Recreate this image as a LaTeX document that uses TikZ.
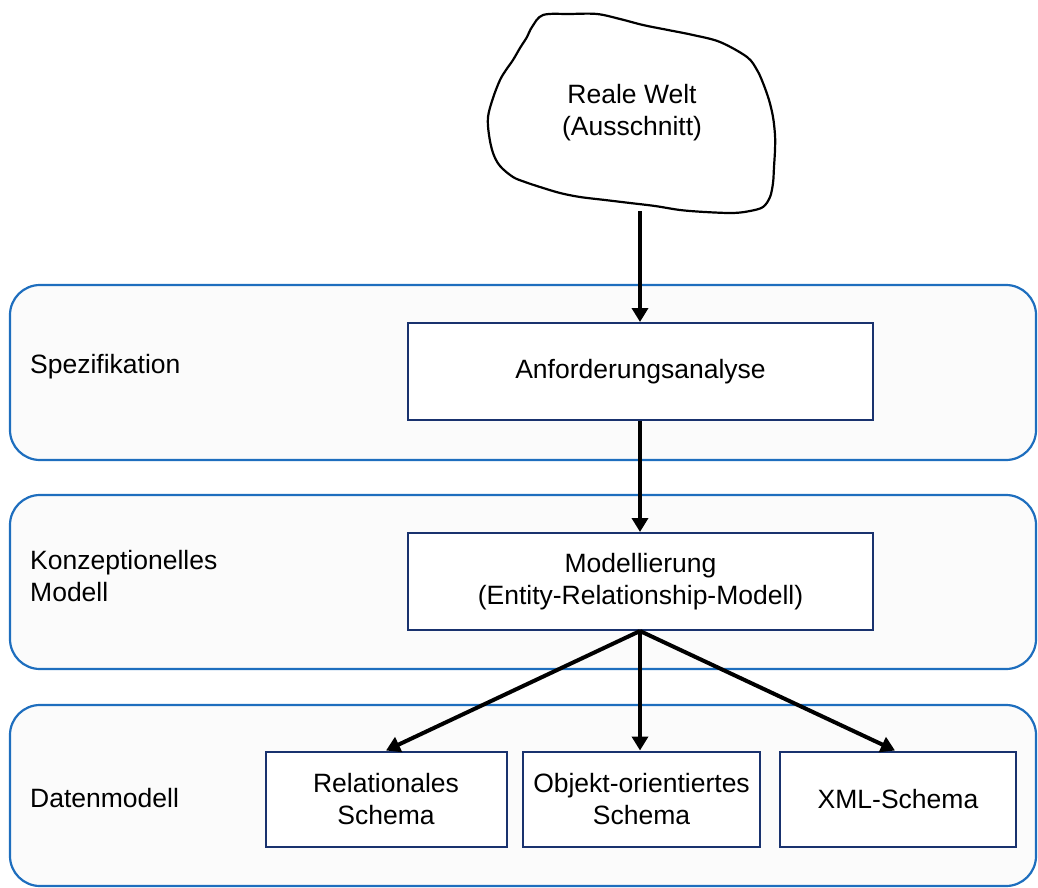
\documentclass[tikz,border=0pt]{standalone}
\usepackage{fontspec}
\setmainfont{Liberation Sans}
\usetikzlibrary{arrows.meta}
\definecolor{bandblue}{RGB}{30,110,190}
\definecolor{bandfill}{RGB}{251,251,251}
\definecolor{boxnavy}{RGB}{25,50,110}
\begin{document}
\begin{tikzpicture}[x=1pt,y=-1pt,
  every node/.style={font=\fontsize{26.5}{32}\selectfont},
  band/.style={draw=bandblue,line width=2.2pt,fill=bandfill,rounded corners=30pt,inner sep=0pt},
  stepbox/.style={draw=boxnavy,line width=2pt,fill=white,align=center,inner sep=0pt},
  lbl/.style={anchor=west,align=left,inner sep=0pt},
  flow/.style={line width=4pt,-{Triangle[width=16pt,length=14pt]}}]
\useasboundingbox (0,0) rectangle (1038,888);
% bands
\node[band,minimum width=1026pt,minimum height=175pt] (b1) at (523,372.5) {};
\node[band,minimum width=1026pt,minimum height=174pt] (b2) at (523,582) {};
\node[band,minimum width=1026pt,minimum height=181pt] (b3) at (523,795.5) {};
% band labels
\node[lbl] (l1) at (30,367) {Spezifikation};
\node[lbl] (l2) at (30,576) {Konzeptionelles\\Modell};
\node[lbl] (l3) at (30,798) {Datenmodell};
% cloud
\draw[line width=2.2pt,line join=round] plot[smooth cycle,tension=0.55] coordinates {
 (543,15) (570,14) (597,14) (620,19) (643,25) (668,30) (693,35) (720,42) (747,57)
 (757,70) (763,83) (769,100) (773,117) (775,135) (775,150) (774,167) (773,183) (770,197) (763,207)
 (750,211) (733,213) (705,212) (680,210) (655,206) (630,203) (605,200) (580,197) (560,193) (540,187)
 (525,182) (513,177) (500,166) (493,153) (489,135) (488,117) (493,98) (500,80) (506,70) (513,60)
 (520,48) (527,37) (532,27)};
\node[align=center,inner sep=0pt] (world) at (632,113) {Reale Welt\\(Ausschnitt)};
\coordinate (cloudbot) at (640,211);
% boxes
\node[stepbox,minimum width=465pt,minimum height=97pt] (anf) at (640.5,371.5) {Anforderungsanalyse};
\node[stepbox,minimum width=465pt,minimum height=97pt] (mod) at (640.5,581.5) {Modellierung\\(Entity-Relationship-Modell)};
\node[stepbox,minimum width=241pt,minimum height=95pt] (rel) at (386,799) {Relationales\\Schema};
\node[stepbox,minimum width=237pt,minimum height=95pt] (obj) at (641.5,799) {Objekt-orientiertes\\Schema};
\node[stepbox,minimum width=236pt,minimum height=95pt] (xml) at (898,799) {XML-Schema};
% arrows
\draw[flow] (cloudbot) -- (anf.north -| cloudbot);
\draw[flow] (anf.south -| cloudbot) -- (mod.north -| cloudbot);
\coordinate (fork) at (mod.south -| cloudbot);
\draw[flow] (fork) -- (rel.north);
\draw[flow] (fork) -- (obj.north -| cloudbot);
\draw[flow] (fork) -- ([xshift=-3pt]xml.north);
\end{tikzpicture}
\end{document}
